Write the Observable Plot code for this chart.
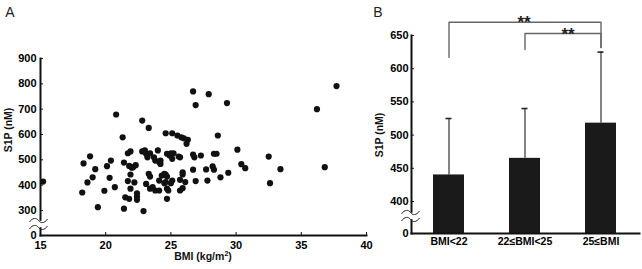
<!DOCTYPE html>
<html>
<head>
<meta charset="utf-8">
<script src="https://cdn.jsdelivr.net/npm/d3@7"></script>
<script src="https://cdn.jsdelivr.net/npm/@observablehq/plot@0.6"></script>
<style>
  body { margin: 0; background: #fff; }
  #fig { position: relative; width: 642px; height: 269px; font-family: "Liberation Sans", Arial, sans-serif; overflow: hidden; }
  #fig > svg, #fig > div { position: absolute; }
  .panel-letter { font-size: 14px; color: #222; }
  .axis-title { font-size: 10.5px; font-weight: bold; color: #111; white-space: nowrap; }
  .rot { transform: translate(-50%, -50%) rotate(-90deg); }
  .ctr { transform: translate(-50%, -50%); }
</style>
</head>
<body>
<div id="fig"></div>
<script>
// Panel A: individual subjects, BMI (kg/m²) vs plasma S1P (nM)
const bmi = [15.2, 18.2, 18.3, 18.8, 18.6, 19.0, 19.2, 19.4, 19.9, 20.1, 20.4, 20.3, 20.7, 20.8, 21.3, 21.4, 21.4,
  21.7, 21.9, 21.8, 22.0, 22.1, 22.3, 21.9, 21.7, 22.2, 21.9, 21.5, 21.8, 22.4, 22.4, 22.4, 22.9, 22.8, 23.3,
  22.8, 23.0, 23.1, 23.2, 23.4, 23.7, 23.8, 24.1, 24.2, 24.0, 24.7, 24.9, 25.2, 25.6, 23.3, 23.4, 23.1, 23.4,
  23.6, 23.8, 24.1, 24.1, 24.3, 24.5, 24.7, 24.6, 25.0, 25.1, 24.7, 24.8, 24.7, 25.7, 24.6, 25.1, 25.5, 25.8,
  26.0, 26.3, 26.2, 26.7, 27.9, 26.9, 29.3, 28.6, 30.1, 37.7, 36.2, 32.5, 30.4, 30.7, 33.4, 36.8, 32.6, 29.4,
  28.8, 28.3, 28.5, 27.3, 26.7, 26.8, 28.2, 28.3, 27.7, 26.7, 27.8, 26.9, 26.1, 25.9, 25.9, 25.7, 25.0, 24.2,
  25.1, 25.9, 25.7, 24.5, 24.6];
const s1p = [414, 371, 486, 514, 411, 431, 463, 313, 378, 475, 497, 429, 392, 679, 589, 489, 307,
  526, 533, 476, 469, 471, 479, 442, 416, 411, 386, 352, 346, 368, 355, 342, 293, 655, 626,
  533, 537, 524, 510, 526, 510, 497, 491, 484, 537, 524, 517, 526, 513, 445, 434, 405, 386,
  392, 379, 379, 418, 438, 445, 434, 412, 408, 418, 386, 379, 346, 379, 605, 605, 596, 589,
  585, 579, 563, 770, 759, 716, 724, 596, 540, 791, 700, 513, 483, 467, 463, 471, 408, 449,
  431, 524, 524, 517, 521, 510, 474, 461, 462, 461, 418, 416, 412, 442, 451, 510, 526, 497,
  504, 388, 421, 408, 442];
const bmiTicks = [15, 20, 25, 30, 35, 40];
const s1pTicksA = [0, 300, 400, 500, 600, 700, 800, 900];

// Panel B: mean S1P by BMI group (+SD)
const groups = ["BMI<22", "22≤BMI<25", "25≤BMI"];
const means = [440, 465, 518];
const sds = [85, 75, 107];
const s1pTicksB = [0, 400, 450, 500, 550, 600, 650];
// significance brackets: group pair, bracket level, leg ends
const compFrom = ["BMI<22", "22≤BMI<25"];
const compTo = ["25≤BMI", "25≤BMI"];
const compLevel = [670, 653];
const compFromEnd = [617, 629];
const compToEnd = [632, 632];
const compLabel = ["**", "**"];

const FONT = "Liberation Sans, Arial, sans-serif";
const fig = document.getElementById("fig");

// broken axis: values below `at` are squeezed by `k`
const squeeze = (at, k) => v => (v >= at ? v : at - (at - v) * k);
const tA = squeeze(300, 0.329);
const tB = squeeze(400, 0.1205);

// broken-axis marker: two short waves, and a white gap between them
const waves = {
  draw(ctx) {
    for (const y0 of [-3.5, 3.5]) {
      ctx.moveTo(-9, y0 + 1.5);
      ctx.bezierCurveTo(-6, y0 - 3, -2, y0 - 3, 0, y0);
      ctx.bezierCurveTo(2, y0 + 3, 6, y0 + 3, 9, y0 - 1.5);
    }
  }
};
const gap = {
  draw(ctx) {
    ctx.rect(-3, -3.2, 6, 6.4);
  }
};
const axisStyle = {stroke: "#111", strokeWidth: 2};

// ---------- Panel A ----------
const scatter = bmi.map((b, i) => ({bmi: b, s1p: s1p[i]}));
const breakA = [{y: 138}];
const plotA = Plot.plot({
  width: 380, height: 269,
  marginLeft: 40, marginRight: 14, marginTop: 58, marginBottom: 34,
  style: {fontFamily: FONT, background: "transparent", overflow: "visible"},
  x: {domain: [15, 40]},
  y: {transform: tA, domain: [tA(0), 900]},
  marks: [
    Plot.frame({anchor: "left", ...axisStyle}),
    Plot.frame({anchor: "bottom", ...axisStyle}),
    Plot.axisY(s1pTicksA, {anchor: "left", tickSize: -3, tickPadding: 7, fontSize: 11, fontWeight: "bold", label: null, stroke: "#111"}),
    Plot.axisX(bmiTicks, {anchor: "bottom", tickSize: -3, tickPadding: 9, fontSize: 11, fontWeight: "bold", label: null, stroke: "#111"}),
    Plot.dot(breakA, {x: () => bmiTicks[0], y: "y", symbol: gap, r: 4, fill: "white", stroke: "none"}),
    Plot.dot(breakA, {x: () => bmiTicks[0], y: "y", symbol: waves, r: 4, fill: "none", stroke: "#222", strokeWidth: 1, dx: -2}),
    Plot.dot(scatter, {x: "bmi", y: "s1p", r: 3.1, fill: "#111", stroke: "none"})
  ]
});
plotA.style.left = "0px";
plotA.style.top = "0px";
fig.appendChild(plotA);

// ---------- Panel B ----------
const bars = groups.map((g, i) => ({group: g, mean: means[i], sd: sds[i]}));
const brackets = compFrom.flatMap((f, i) => [
  {k: i, x: f, y: compFromEnd[i]},
  {k: i, x: f, y: compLevel[i]},
  {k: i, x: compTo[i], y: compLevel[i]},
  {k: i, x: compTo[i], y: compToEnd[i]}
]);
const stars = compFrom.map((f, i) => ({x: groups[1], y: compLevel[i], label: compLabel[i]}));
const breakB = [{y: 219}];
const plotB = Plot.plot({
  width: 282, height: 269,
  marginLeft: 51, marginRight: 3, marginTop: 35, marginBottom: 36,
  style: {fontFamily: FONT, background: "transparent", overflow: "visible"},
  x: {type: "band", domain: groups, paddingInner: 0.592, paddingOuter: 0.296},
  y: {transform: tB, domain: [tB(0), 650]},
  marks: [
    Plot.barY(bars, {x: "group", y: "mean", fill: "#1a1a1a"}),
    Plot.ruleX(bars, {x: "group", y1: "mean", y2: d => d.mean + d.sd, stroke: "#333", strokeWidth: 1.2}),
    Plot.tickY(bars, {x: "group", y: d => d.mean + d.sd, insetLeft: 12.5, insetRight: 12.5, stroke: "#222", strokeWidth: 1.6}),
    Plot.line(brackets, {x: "x", y: "y", z: "k", stroke: "#666", strokeWidth: 1.4}),
    Plot.text(stars.slice(0, 1), {x: "x", y: "y", text: "label", fontSize: 17, fontWeight: "bold", fill: "#222", lineAnchor: "bottom", dy: 6, dx: -1}),
    Plot.text(stars.slice(1), {x: "x", y: "y", text: "label", fontSize: 17, fontWeight: "bold", fill: "#222", lineAnchor: "bottom", dy: 6, dx: 43}),
    Plot.frame({anchor: "left", ...axisStyle}),
    Plot.frame({anchor: "bottom", ...axisStyle}),
    Plot.axisY(s1pTicksB, {anchor: "left", tickSize: -3, tickPadding: 6, fontSize: 11, fontWeight: "bold", label: null, stroke: "#111"}),
    Plot.axisX(groups, {anchor: "bottom", tickSize: 0, tickPadding: 4, fontSize: 10.5, fontWeight: "bold", label: null}),
    Plot.dot(breakB, {y: "y", frameAnchor: "left", symbol: gap, r: 4, fill: "white", stroke: "none"}),
    Plot.dot(breakB, {y: "y", frameAnchor: "left", symbol: waves, r: 4, fill: "none", stroke: "#222", strokeWidth: 1, dx: -1})
  ]
});
plotB.style.left = "360px";
plotB.style.top = "0px";
fig.appendChild(plotB);

// text labels around the panels
function label(text, cls, x, y) {
  const d = document.createElement("div");
  d.className = cls;
  d.innerHTML = text;
  d.style.left = x + "px";
  d.style.top = y + "px";
  fig.appendChild(d);
}
label("A", "panel-letter ctr", 10, 12);
label("B", "panel-letter ctr", 378, 12);
label("S1P (nM)", "axis-title rot", 8, 130);
label("S1P (nM)", "axis-title rot", 379, 135);
label("BMI (kg/m<sup style=\"font-size:7px\">2</sup>)", "axis-title ctr", 203, 256);
</script>
</body>
</html>
